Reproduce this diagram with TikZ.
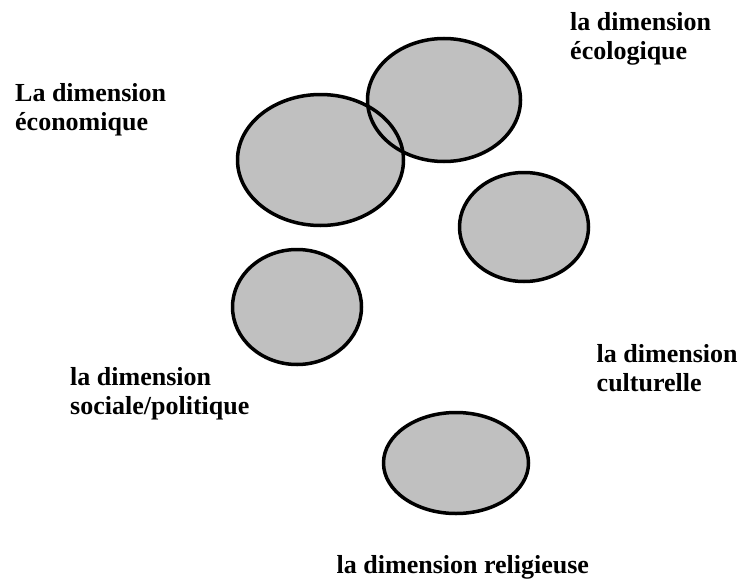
\documentclass[tikz,border=0pt]{standalone}
\usepackage{fontspec}
\setmainfont{Liberation Serif}
\definecolor{ellfill}{RGB}{192,192,192}
\tikzset{
  lbl/.style={anchor=base west, inner sep=0pt, align=left, font=\fontsize{26}{29}\bfseries\selectfont}
}
\begin{document}
\begin{tikzpicture}[x=1pt,y=-1pt]
\useasboundingbox (0,0) rectangle (738,578);
% fills
\fill[ellfill] (444,100) ellipse [x radius=76.5, y radius=61.5];
\fill[ellfill] (320.5,160) ellipse [x radius=83, y radius=65.5];
% outlines
\draw[line width=3.5pt] (444,100) ellipse [x radius=76.5, y radius=61.5];
\draw[line width=3.5pt] (320.5,160) ellipse [x radius=83, y radius=65.5];
\filldraw[fill=ellfill, line width=3.5pt] (524,227) ellipse [x radius=64.5, y radius=54.5];
\filldraw[fill=ellfill, line width=3.5pt] (297,307) ellipse [x radius=64.5, y radius=57.5];
\filldraw[fill=ellfill, line width=3.5pt] (456,463) ellipse [x radius=72.5, y radius=50.5];
% labels (anchored at the baseline of their last line)
\node[lbl] (eco) at (15,130.5) {La dimension\\économique};
\node[lbl] (ecol) at (570,59.5) {la dimension\\écologique};
\node[lbl] (soc) at (70,414.5) {la dimension\\sociale/politique};
\node[lbl] (cul) at (596.5,391.5) {la dimension\\culturelle};
\node[lbl] (rel) at (336.5,573) {la dimension religieuse};
\end{tikzpicture}
\end{document}
